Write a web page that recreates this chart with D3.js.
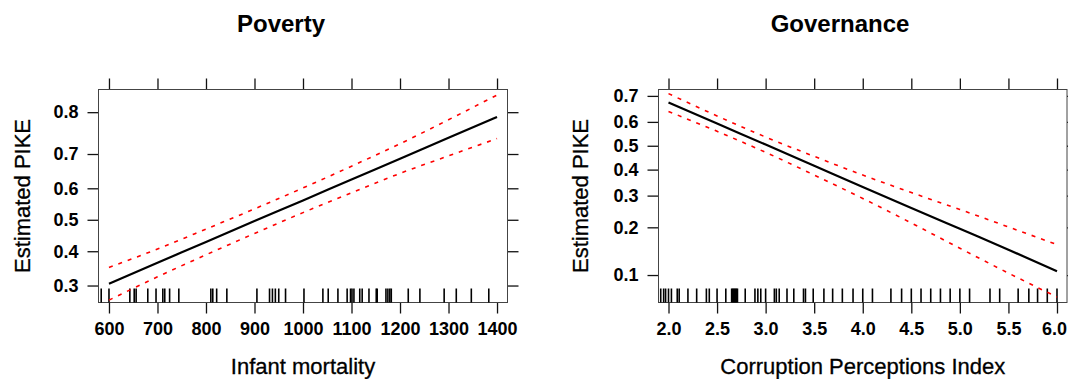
<!DOCTYPE html>
<html>
<head>
<meta charset="utf-8">
<script src="https://cdn.jsdelivr.net/npm/d3@7"></script>
<style>
  html, body { margin: 0; padding: 0; background: #fff; }
  #chart { width: 1068px; height: 379px; }
  text { font-family: 'Liberation Sans', Arial, Helvetica, sans-serif; fill: #000; }
</style>
</head>
<body>
<div id="chart"></div>
<script>
// Poverty panel (effect of infant mortality)
const povertyX = [600, 700, 800, 900, 1000, 1100, 1200, 1300, 1400];
const povertyFit = [0.305, 0.365, 0.429, 0.496, 0.562, 0.627, 0.687, 0.742, 0.790];
const povertyUpper = [0.351, 0.407, 0.470, 0.535, 0.601, 0.666, 0.727, 0.784, 0.833];
const povertyLower = [0.262, 0.324, 0.389, 0.456, 0.523, 0.586, 0.645, 0.695, 0.740];
const povertyRug = [584, 600, 643, 652, 656, 680, 697, 711, 715, 725, 744, 810, 814, 822, 843,
    905, 931, 937, 943, 950, 964, 1002, 1041, 1052, 1072, 1091, 1098, 1101, 1105, 1117, 1122,
    1136, 1151, 1153, 1171, 1175, 1179, 1182, 1217, 1241, 1291, 1316, 1347, 1383];
const povertyTicksX = [600, 700, 800, 900, 1000, 1100, 1200, 1300, 1400];
const povertyTicksY = [0.3, 0.4, 0.5, 0.6, 0.7, 0.8];

// Governance panel (effect of corruption perceptions index)
const governanceX = [2.0, 2.5, 3.0, 3.5, 4.0, 4.5, 5.0, 5.5, 6.0];
const governanceFit = [0.676, 0.593, 0.505, 0.416, 0.332, 0.258, 0.196, 0.146, 0.106];
const governanceUpper = [0.708, 0.624, 0.537, 0.455, 0.378, 0.311, 0.253, 0.201, 0.157];
const governanceLower = [0.642, 0.561, 0.472, 0.378, 0.290, 0.212, 0.149, 0.103, 0.071];
const governanceRug = [1.92, 1.95, 1.97, 2.0, 2.03, 2.09, 2.11, 2.2, 2.29, 2.39, 2.42, 2.5, 2.59,
    2.65, 2.66, 2.67, 2.68, 2.69, 2.7, 2.71, 2.79, 2.89, 2.92, 2.95, 3.0, 3.09, 3.11, 3.14, 3.22,
    3.29, 3.39, 3.41, 3.49, 3.6, 3.69, 3.79, 3.9, 4.0, 4.1, 4.29, 4.4, 4.5, 4.6, 4.7, 4.8, 4.9,
    5.0, 5.1, 5.31, 5.41, 5.6, 5.71, 5.8, 5.9, 6.0];
const governanceTicksX = [2.0, 2.5, 3.0, 3.5, 4.0, 4.5, 5.0, 5.5, 6.0];
const governanceTicksY = [0.1, 0.2, 0.3, 0.4, 0.5, 0.6, 0.7];

const logit = p => Math.log(p / (1 - p));

document.addEventListener('DOMContentLoaded', () => {
    const svg = d3.select('#chart')
        .append('svg')
        .attr('width', 1068)
        .attr('height', 379);

    const panels = [
        {
            title: 'Poverty', xLabel: 'Infant mortality',
            x: povertyX, fit: povertyFit, upper: povertyUpper, lower: povertyLower, rug: povertyRug,
            ticksX: povertyTicksX, ticksY: povertyTicksY, fmtX: d3.format('d'),
            box: { left: 98.5, right: 507.5, top: 89.5, bottom: 302.5 },
            xDomain: [578.4, 1421.6], yDomain: [-1.066, 1.6785],
            titleX: 281, yLabelX: 30
        },
        {
            title: 'Governance', xLabel: 'Corruption Perceptions Index',
            x: governanceX, fit: governanceFit, upper: governanceUpper, lower: governanceLower, rug: governanceRug,
            ticksX: governanceTicksX, ticksY: governanceTicksY, fmtX: d3.format('.1f'),
            box: { left: 658.5, right: 1067, top: 89.5, bottom: 302.5 },
            xDomain: [1.897, 6.103], yDomain: [-2.664, 0.956],
            titleX: 840, yLabelX: 588
        }
    ];

    panels.forEach(p => {
        const b = p.box;
        const g = svg.append('g');

        const xScale = d3.scaleLinear().domain(p.xDomain).range([b.left, b.right]);
        // y is on the logit scale
        const yScale = d3.scaleLinear().domain(p.yDomain).range([b.bottom, b.top]);

        // Title
        g.append('text')
            .attr('x', p.titleX)
            .attr('y', 32)
            .attr('text-anchor', 'middle')
            .style('font-size', '24px')
            .style('font-weight', 'bold')
            .text(p.title);

        // Axes (ticks outward, no domain line)
        const tickFont = sel => sel.selectAll('text')
            .style('font-size', '18px')
            .style('font-weight', 'bold')
            .attr('fill', '#000');

        const bottomAxis = g.append('g')
            .attr('transform', `translate(0,${b.bottom})`)
            .call(d3.axisBottom(xScale).tickValues(p.ticksX).tickSize(11).tickPadding(9).tickFormat(p.fmtX))
            .call(tickFont);

        // keep the last label inside the page
        bottomAxis.selectAll('text')
            .filter(d => xScale(d) + 14 > 1068)
            .attr('dx', -3);

        const topAxis = g.append('g')
            .attr('transform', `translate(0,${b.top})`)
            .call(d3.axisTop(xScale).tickValues(p.ticksX).tickSize(11).tickFormat(''));

        const leftAxis = g.append('g')
            .attr('transform', `translate(${b.left},0)`)
            .call(d3.axisLeft(yScale).tickValues(p.ticksY.map(logit)).tickSize(11).tickPadding(9)
                .tickFormat((d, i) => d3.format('.1f')(p.ticksY[i])))
            .call(tickFont);

        const rightAxis = g.append('g')
            .attr('transform', `translate(${b.right},0)`)
            .call(d3.axisRight(yScale).tickValues(p.ticksY.map(logit)).tickSize(11).tickFormat(''));

        [bottomAxis, topAxis, leftAxis, rightAxis].forEach(a => {
            a.select('.domain').remove();
            a.selectAll('line').attr('stroke', '#111').attr('stroke-width', 1.3);
        });

        // Panel box
        g.append('rect')
            .attr('x', b.left)
            .attr('y', b.top)
            .attr('width', b.right - b.left)
            .attr('height', b.bottom - b.top)
            .attr('fill', 'none')
            .attr('stroke', '#444')
            .attr('stroke-width', 1);

        // Rug
        g.append('g')
            .selectAll('line')
            .data(p.rug)
            .enter()
            .append('line')
            .attr('x1', d => xScale(d))
            .attr('x2', d => xScale(d))
            .attr('y1', b.bottom)
            .attr('y2', b.bottom - 14)
            .attr('stroke', '#000')
            .attr('stroke-width', 1.6);

        // Fitted effect and confidence limits
        const line = d3.line()
            .x(d => xScale(d[0]))
            .y(d => yScale(logit(d[1])))
            .curve(d3.curveMonotoneX);

        [p.upper, p.lower].forEach(series => {
            g.append('path')
                .datum(p.x.map((v, i) => [v, series[i]]))
                .attr('d', line)
                .attr('fill', 'none')
                .attr('stroke', '#ff0000')
                .attr('stroke-width', 1.6)
                .attr('stroke-dasharray', '4,6');
        });

        g.append('path')
            .datum(p.x.map((v, i) => [v, p.fit[i]]))
            .attr('d', line)
            .attr('fill', 'none')
            .attr('stroke', '#000')
            .attr('stroke-width', 2.2);

        // Axis labels
        g.append('text')
            .attr('x', (b.left + b.right) / 2)
            .attr('y', 374)
            .attr('text-anchor', 'middle')
            .style('font-size', '22px')
            .style('stroke', '#000')
            .style('stroke-width', 0.3)
            .text(p.xLabel);

        g.append('text')
            .attr('transform', `translate(${p.yLabelX},${(b.top + b.bottom) / 2}) rotate(-90)`)
            .attr('text-anchor', 'middle')
            .style('font-size', '22px')
            .style('stroke', '#000')
            .style('stroke-width', 0.3)
            .text('Estimated PIKE');
    });
});
</script>
</body>
</html>
